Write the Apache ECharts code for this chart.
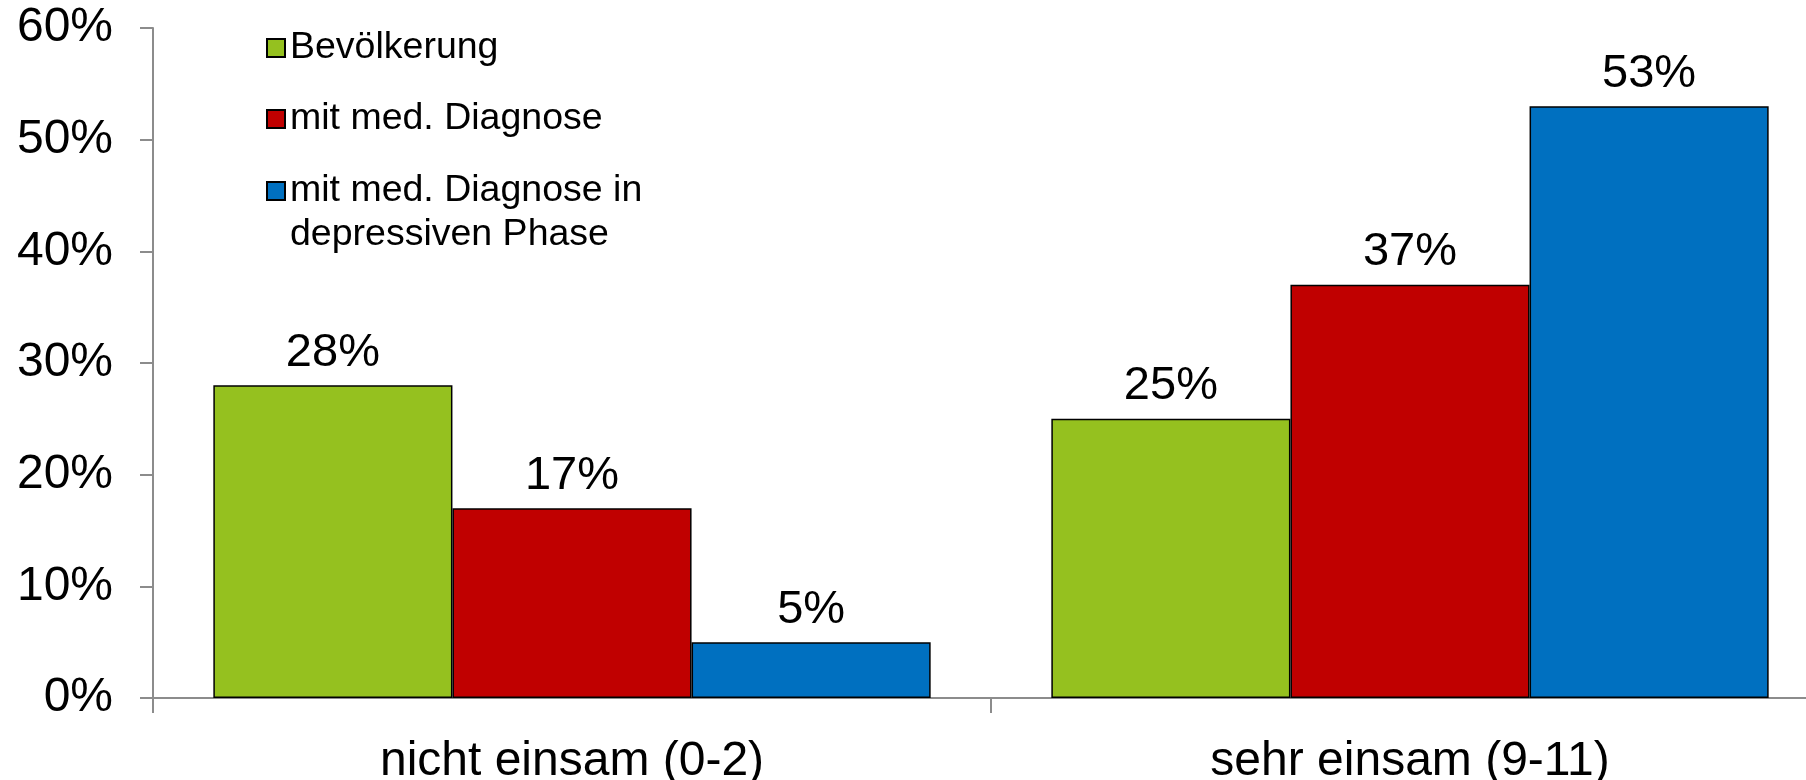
<!DOCTYPE html>
<html>
<head>
<meta charset="utf-8">
<script src="https://cdn.jsdelivr.net/npm/echarts@6/dist/echarts.min.js"></script>
<style>
html,body{margin:0;padding:0;background:#fff;}
#chart{width:1806px;height:780px;}
</style>
</head>
<body>
<div id="chart"></div>
<script>
const categories = ['nicht einsam (0-2)', 'sehr einsam (9-11)'];
const seriesNames = ['Bevölkerung', 'mit med. Diagnose', 'mit med. Diagnose in depressiven Phase'];
const legendLabels = ['Bevölkerung', 'mit med. Diagnose', ' \nmit med. Diagnose in\ndepressiven Phase'];
const bevoelkerung = [28, 25];
const mitDiagnose = [17, 37];
const mitDiagnoseDepressiv = [5, 53];
const yTicks = {min: 0, max: 60, interval: 10};

const colors = ['#95C11F', '#C00000', '#0070C0'];
const seriesData = [bevoelkerung, mitDiagnose, mitDiagnoseDepressiv];
const FONT = 'Liberation Sans, Arial, sans-serif';
const AXIS_COLOR = '#8c8c8c';

const chart = echarts.init(document.getElementById('chart'));

const legendTops = [26, 97, 125];
const legends = seriesNames.map((n, i) => ({
  data: [{name: n, icon: 'rect'}],
  left: 266,
  top: legendTops[i],
  padding: 0,
  itemWidth: 18,
  itemHeight: 18,
  selectedMode: false,
  formatter: () => legendLabels[i],
  textStyle: {fontFamily: FONT, fontSize: 37.5, color: '#000', lineHeight: 44}
}));

chart.setOption({
  animation: false,
  backgroundColor: '#fff',
  color: colors,
  legend: legends,
  grid: {left: 153, width: 1676, top: 28, bottom: 82, containLabel: false, outerBoundsMode: 'none'},
  xAxis: {
    type: 'category',
    data: categories,
    axisLine: {show: true, lineStyle: {color: AXIS_COLOR, width: 2}},
    axisTick: {show: true, length: 15, alignWithLabel: false, interval: 0, lineStyle: {color: AXIS_COLOR, width: 2}},
    axisLabel: {fontFamily: FONT, fontSize: 48, color: '#000', margin: 40},
    splitLine: {show: false}
  },
  yAxis: {
    type: 'value',
    min: yTicks.min,
    max: yTicks.max,
    interval: yTicks.interval,
    axisLine: {show: true, lineStyle: {color: AXIS_COLOR, width: 2}},
    axisTick: {show: true, length: 13, lineStyle: {color: AXIS_COLOR, width: 2}},
    axisLabel: {fontFamily: FONT, fontSize: 48, color: '#000', margin: 40, formatter: '{value}%'},
    splitLine: {show: false}
  },
  series: seriesNames.map((n, i) => ({
    name: n,
    type: 'bar',
    data: seriesData[i],
    barGap: '0%',
    barCategoryGap: '14.4%',
    itemStyle: {color: colors[i], borderColor: '#000', borderWidth: 1.5},
    label: {show: true, position: 'top', distance: 9, formatter: '{c}%', fontFamily: FONT, fontSize: 47, color: '#000'}
  }))
});
</script>
</body>
</html>
